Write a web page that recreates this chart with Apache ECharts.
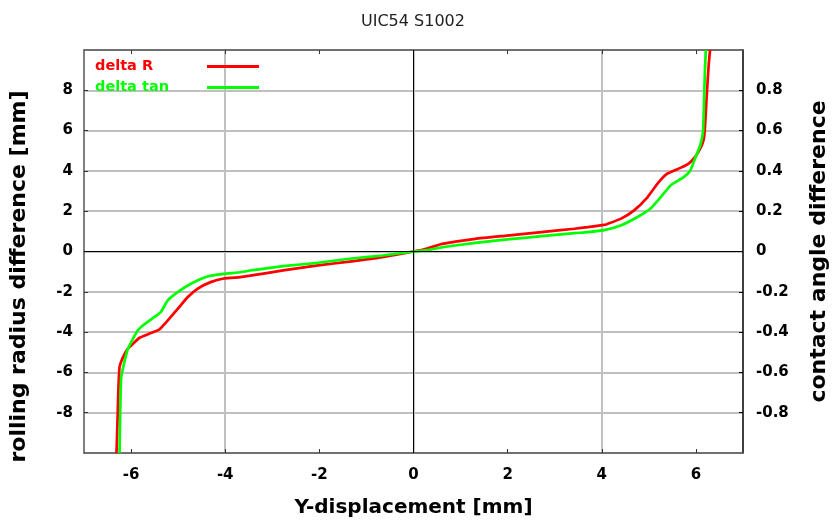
<!DOCTYPE html>
<html><head><meta charset="utf-8">
<script src="https://cdn.jsdelivr.net/npm/echarts@6/dist/echarts.min.js"></script>
<style>html,body{margin:0;padding:0;background:#fff}#c{width:838px;height:523px}</style>
</head><body><div id="c"></div>
<script>
const titleText = 'UIC54 S1002';
const seriesNames = ['delta R', 'delta tan'];
const xTicks = [-6, -4, -2, 0, 2, 4, 6];
// delta R (rolling radius difference, mm)
const redX = [-6.31,-6.29,-6.27,-6.245,-6.17,-6.07,-5.98,-5.82,-5.58,-5.40,-5.22,-5.01,-4.80,-4.59,-4.31,-4.03,-3.68,-3.47,-2.77,-2.03,-1.36,-0.66,0,0.19,0.61,1.31,1.99,2.72,3.42,3.70,4.05,4.12,4.40,4.68,4.97,5.18,5.39,5.67,5.84,5.98,6.09,6.16,6.19,6.23,6.27,6.30];
const redY = [-10.0,-8.55,-6.9,-5.74,-5.24,-4.83,-4.63,-4.28,-4.05,-3.87,-3.42,-2.85,-2.27,-1.85,-1.52,-1.34,-1.27,-1.20,-0.94,-0.69,-0.50,-0.28,0,0.08,0.38,0.63,0.79,0.96,1.13,1.21,1.32,1.37,1.62,2.03,2.69,3.36,3.86,4.15,4.35,4.68,5.10,5.51,6.09,7.74,9.23,10.0];
// delta tan (contact angle difference)
const greenX = [-6.245,-6.23,-6.21,-6.15,-6.08,-5.98,-5.86,-5.75,-5.51,-5.37,-5.22,-5.01,-4.73,-4.38,-4.03,-3.68,-3.40,-2.77,-2.03,-1.36,-0.66,0,0.33,0.61,1.31,1.99,2.72,3.42,3.70,4.05,4.40,4.75,5.03,5.25,5.46,5.74,5.88,5.98,6.09,6.15,6.17,6.19,6.21];
const greenY = [-1.0,-0.789,-0.624,-0.557,-0.491,-0.442,-0.392,-0.367,-0.326,-0.301,-0.243,-0.202,-0.160,-0.124,-0.111,-0.103,-0.092,-0.073,-0.056,-0.036,-0.020,0,0.008,0.021,0.043,0.060,0.076,0.091,0.096,0.106,0.129,0.170,0.212,0.269,0.328,0.369,0.402,0.460,0.526,0.592,0.724,0.890,1.0];

const zip = (xs, ys) => xs.map((x, i) => [x, ys[i]]);
const font = 'DejaVu Sans';
const chart = echarts.init(document.getElementById('c'), null, {renderer: 'canvas'});
const axisLbl = {color: '#000', fontFamily: font, fontWeight: 'bold', fontSize: 15};
chart.setOption({
  animation: false,
  backgroundColor: '#fff',
  title: {text: titleText, left: 356, top: 9, textStyle: {fontFamily: font, fontWeight: 'normal', fontSize: 16, color: '#222'}},
  legend: {
    orient: 'vertical', left: 95, top: 59, align: 'right', padding: 0, itemGap: 6,
    itemWidth: 52, itemHeight: 3, icon: 'rect',
    data: seriesNames,
    formatter: n => (n === seriesNames[0] ? '{r|' : '{g|') + n + '}',
    textStyle: {
      rich: {
        r: {width: 107, align: 'left', color: '#ff0000', fontFamily: font, fontWeight: 'bold', fontSize: 14.5},
        g: {width: 107, align: 'left', color: '#00ff00', fontFamily: font, fontWeight: 'bold', fontSize: 14.5}
      }
    }
  },
  grid: {left: 83, right: 92, top: 50, bottom: 70},
  xAxis: [{
    type: 'value', min: -7, max: 7, interval: 1, position: 'bottom',
    name: 'Y-displacement [mm]', nameLocation: 'middle', nameGap: 45,
    nameTextStyle: {color: '#000', fontFamily: font, fontWeight: 'bold', fontSize: 20},
    axisLine: {onZero: false, lineStyle: {color: '#555', width: 1.5}},
    axisTick: {show: true, inside: true, length: 4, customValues: xTicks, lineStyle: {color: '#333'}},
    axisLabel: Object.assign({margin: 15, formatter: v => (Math.abs(Math.round(v)) % 2 === 0 ? String(Math.round(v)) : '')}, axisLbl),
    splitLine: {show: true, lineStyle: {color: ['rgba(0,0,0,0)', '#c0c0c0'], width: 2}}
  }, {
    type: 'value', min: -7, max: 7, interval: 1, position: 'top',
    axisLine: {onZero: false, lineStyle: {color: '#555', width: 1.5}},
    axisTick: {show: true, inside: true, length: 4, customValues: xTicks, lineStyle: {color: '#333'}},
    axisLabel: {show: false}, splitLine: {show: false}
  }],
  yAxis: [{
    type: 'value', min: -10, max: 10, interval: 2, position: 'left',
    name: 'rolling radius difference [mm]', nameLocation: 'middle', nameGap: 54,
    nameTextStyle: {color: '#000', fontFamily: font, fontWeight: 'bold', fontSize: 22, padding: [0, 50, 0, 0]},
    axisLine: {show: true, onZero: false, lineStyle: {color: '#555', width: 1.5}},
    axisTick: {show: true, inside: true, length: 4, lineStyle: {color: '#333'}},
    axisLabel: Object.assign({margin: 11, showMinLabel: false, showMaxLabel: false}, axisLbl),
    splitLine: {show: true, lineStyle: {color: '#c0c0c0', width: 2}}
  }, {
    type: 'value', min: -1, max: 1, interval: 0.2, position: 'right',
    name: 'contact angle difference', nameLocation: 'middle', nameGap: 65,
    nameTextStyle: {color: '#000', fontFamily: font, fontWeight: 'bold', fontSize: 22},
    axisLine: {show: true, onZero: false, lineStyle: {color: '#000', width: 1.5}},
    axisTick: {show: true, inside: true, length: 4, lineStyle: {color: '#000'}},
    axisLabel: Object.assign({margin: 13, showMinLabel: false, showMaxLabel: false}, axisLbl),
    splitLine: {show: false}
  }],
  series: [{
    name: seriesNames[0], type: 'line', xAxisIndex: 0, yAxisIndex: 0,
    data: zip(redX, redY), showSymbol: false, symbol: 'none', smooth: 0.15, smoothMonotone: 'none',
    lineStyle: {color: '#ff0000', width: 2.7}, itemStyle: {color: '#ff0000'},
    markLine: {silent: true, symbol: 'none', label: {show: false},
      lineStyle: {color: '#000', width: 1, type: 'solid'},
      data: [{yAxis: 0}, {xAxis: 0}]}
  }, {
    name: seriesNames[1], type: 'line', xAxisIndex: 0, yAxisIndex: 1,
    data: zip(greenX, greenY), showSymbol: false, symbol: 'none', smooth: 0.15, smoothMonotone: 'none',
    lineStyle: {color: '#00ff00', width: 2.7}, itemStyle: {color: '#00ff00'}
  }]
});
</script></body></html>
